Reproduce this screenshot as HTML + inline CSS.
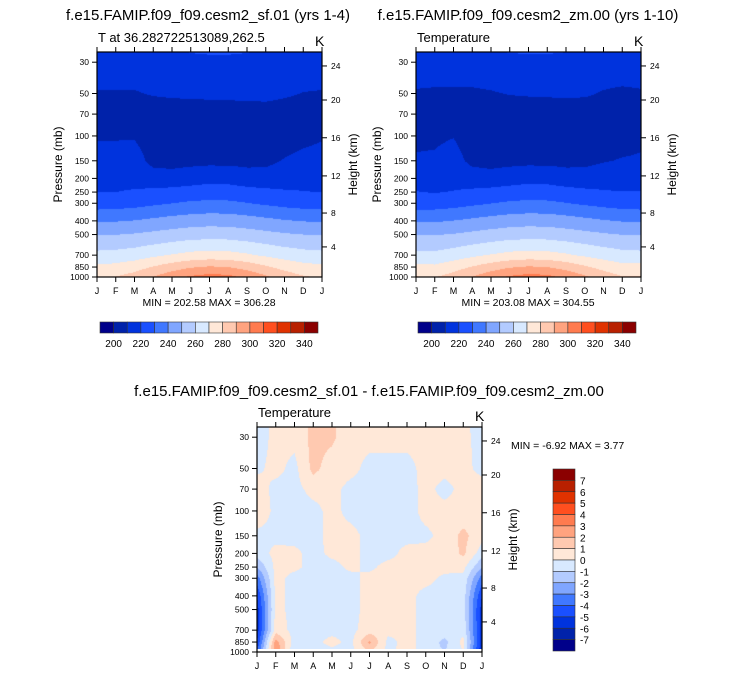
<!DOCTYPE html>
<html><head><meta charset="utf-8">
<style>
body{margin:0;background:#fff;width:733px;height:676px;overflow:hidden;font-family:"Liberation Sans",sans-serif;}
#root{position:relative;width:733px;height:676px;}
canvas{position:absolute;}
svg{position:absolute;left:0;top:0;}
</style></head>
<body><div id="root">
<canvas id="c1" width="225" height="225" style="left:97px;top:52px"></canvas>
<canvas id="c2" width="225" height="225" style="left:416px;top:52px"></canvas>
<canvas id="c3" width="225" height="222" style="left:257px;top:427px"></canvas>
<svg id="ov" width="733" height="676"></svg>
</div>
<script>
const months = ["J","F","M","A","M","J","J","A","S","O","N","D","J"];
const levels = [25,30,50,70,100,150,200,250,300,400,500,700,850,1000];
const palette = ["#00008a","#0022aa","#0033dd","#1a50ff","#4078ff","#80a6ff","#b3cbff","#d8e9ff","#ffe8d8","#ffc9b0","#ffa37f","#ff7b4f","#ff4f1f","#e03200","#b82000","#8b0000"];
const tempLevels = [200,210,220,230,240,250,260,270,280,290,300,310,320,330,340];
const diffLevels = [-7,-6,-5,-4,-3,-2,-1,0,1,2,3,4,5,6,7];
const tempTicks = [200,220,240,260,280,300,320,340];
const diffTicks = [7,6,5,4,3,2,1,0,-1,-2,-3,-4,-5,-6,-7];
const pressTicks = [30,50,70,100,150,200,250,300,400,500,700,850,1000];
const kmTicks = [4,8,12,16,20,24];
const kmPress = [612,352,192,103,55.6,31.9];
const tempSF = [
[216,216,216,217,218,221,222,222,221,218,216,216,216],
[214,214,214,214,214.5,215.5,216,216,215.5,214.5,214,214,214],
[209.5,209.5,209.5,210.5,211,211.3,211.5,211.7,212,212.3,211,209.8,209.5],
[206.5,206.5,206.5,206.5,206.5,206.5,206.5,206.5,206.5,206.5,206.5,206.5,206.5],
[209,209.2,209.3,206,205,205,205,205,205,205.5,206,207.5,209],
[213.5,213.5,213.5,207.5,207,207.5,207.5,207.5,207.5,208,210.5,212.5,213.5],
[216.5,216.5,216.5,214,213.5,215,217,216.5,214,213.5,214.5,216,216.5],
[219.8,220,221,222.3,223.5,224.5,225,224.8,223.8,222.5,221.2,220.4,219.8],
[225,225.4,226.4,228.2,229.9,231.3,232,231.7,230.3,228.5,226.8,225.6,225],
[239,239.4,240.4,242.2,243.9,245.3,246,245.7,244.3,242.5,240.8,239.6,239],
[249.5,249.8,250.8,252.4,254,255.4,256,255.7,254.4,252.8,251.1,250,249.5],
[263,263.6,265.2,268,270.7,272.9,274,273.5,271.3,268.5,265.8,263.9,263],
[272,273,275.8,280.6,285.3,289.1,291,290,286.3,281.5,276.8,273.5,272],
[279,280.3,284,290.3,296.5,301.5,304,302.8,297.8,291.5,285.3,281,279]];
const tempZM = [
[216,216,216,217,219,221,221.5,221.5,220.5,218,216,216,216],
[214,214,214,214,214.5,215.5,216,216,215.5,214.5,214,214,214],
[209.3,209,209,209,209.5,210.3,210.6,210.8,211,210.8,209.5,208.8,209.3],
[206.5,206.5,206.5,206.5,206.5,206.5,206.5,206.5,206.5,206.5,206.5,206.5,206.5],
[208.5,208.8,209.7,206,205,205,205,205,205,205.5,206,207,208.5],
[210.8,211,213,208,207,207.5,207.5,207.5,207.5,208,209.5,210.5,210.8],
[216,215.5,216,214,213.5,215,217,216.5,214,213.5,214.5,215.5,216],
[220.3,219.5,220.5,222,223.3,224.5,225,224.8,223.8,222.3,221,220.2,220.3],
[225,225,226.2,228,229.8,231.3,232,231.7,230.3,228.5,226.8,225.4,225],
[239,239,240.2,242,243.8,245.3,246,245.7,244.3,242.5,240.8,239.4,239],
[249.5,249.5,250.6,252.3,254,255.4,256,255.7,254.4,252.8,251.1,249.8,249.5],
[263,262.5,265,268,270.7,272.9,274,273.5,271.3,268.5,265.8,263.5,263],
[273,272,275.8,280.6,285.3,289.1,291,290,286.3,281.5,276.8,273,273],
[280.5,279.5,284,290.3,296.5,301.5,304,302.8,297.8,291.5,285.3,280.5,280.5]];
const diffTS = [
[-0.5,0.3,0.3,1.3,1.2,0.3,0.3,0.3,0.3,0.3,0.3,0.3,-0.5],
[-0.5,0.3,0.3,1.3,1.2,0.3,0.3,0.3,0.3,0.3,0.3,0.2,-0.3],
[-0.2,0.3,-0.3,1.3,0.5,0.3,-0.3,-0.3,-0.3,0.3,0.3,0.3,-0.3],
[0.5,-0.3,-0.3,0.3,0.3,-0.3,-0.4,-0.4,-0.4,0.3,-0.3,0.3,0.5],
[0.8,-0.3,-0.3,-0.3,0.3,-0.3,-0.4,-0.4,-0.4,0.3,0.3,0.3,0.8],
[-0.3,-0.3,-0.3,-0.3,0.3,0.3,-0.3,-0.3,-0.3,-0.2,0.3,1.3,0.3],
[-0.5,0.3,0.2,-0.3,0.2,0.3,-0.3,-0.3,0.3,0.3,0.3,1.2,-0.5],
[-2,0.3,0.2,-0.3,-0.3,0.2,-0.2,0.3,0.3,0.3,0.3,0.3,-2],
[-3.5,0.3,-0.3,-0.3,-0.3,-0.3,0.3,0.3,0.3,0.3,-0.2,-0.3,-3.5],
[-5,0.3,-0.3,-0.3,-0.3,-0.3,0.3,0.3,0.3,-0.3,-0.3,-0.5,-5],
[-5.5,0.3,-0.3,-0.3,-0.3,-0.3,0.3,0.3,0.3,-0.3,-0.3,-0.5,-5.5],
[-5.5,0.5,-0.3,-0.3,-0.3,-0.3,0.5,0.3,0.3,-0.3,-0.3,-0.3,-5.5],
[-5,2.5,-0.5,-0.3,0.3,-0.3,2.2,-0.3,0.3,-0.3,-1.3,0.3,-5.5],
[-4,3,-1,-0.3,-0.3,-0.3,1,-0.3,0.5,-0.5,-1,0,-6]];

const PTOP = 25.4, PBOT = 1000, PH = 225;
function yOfP(p){ return PH*(Math.log10(PTOP)-Math.log10(p))/(Math.log10(PTOP)-Math.log10(PBOT)); }
function colorIdx(v, lv){ let i=0; while(i<lv.length && v>=lv[i]) i++; return i; }
const lp = levels.map(p=>Math.log10(p));
function sample(grid, mx, l){
  let k=0; while(k<lp.length-2 && l>lp[k+1]) k++;
  let t=(l-lp[k])/(lp[k+1]-lp[k]); t=Math.max(0,Math.min(1,t));
  let m=Math.floor(mx); if(m>11) m=11; if(m<0)m=0; const s=mx-m;
  const a=grid[k][m]*(1-s)+grid[k][m+1]*s, b=grid[k+1][m]*(1-s)+grid[k+1][m+1]*s;
  return a*(1-t)+b*t;
}
function drawField(id, grid, lv){
  const c=document.getElementById(id), ctx=c.getContext('2d');
  const img=ctx.createImageData(c.width,c.height);
  const rgb=palette.map(h=>[parseInt(h.slice(1,3),16),parseInt(h.slice(3,5),16),parseInt(h.slice(5,7),16)]);
  const l0=Math.log10(PTOP), l1=Math.log10(PBOT);
  for(let y=0;y<c.height;y++){ const l=l0+(y+0.5)/PH*(l1-l0);
    for(let x=0;x<c.width;x++){ const mx=(x+0.5)/225*12;
      const col=rgb[colorIdx(sample(grid,mx,l),lv)]; const o=(y*c.width+x)*4;
      img.data[o]=col[0];img.data[o+1]=col[1];img.data[o+2]=col[2];img.data[o+3]=255; } }
  ctx.putImageData(img,0,0);
}
drawField('c1',tempSF,tempLevels);
drawField('c2',tempZM,tempLevels);
drawField('c3',diffTS,diffLevels);

const NS="http://www.w3.org/2000/svg", ov=document.getElementById('ov');
function el(tag,attrs,txt){const e=document.createElementNS(NS,tag);for(const k in attrs)e.setAttribute(k,attrs[k]);if(txt!==undefined)e.textContent=txt;ov.appendChild(e);return e;}
function txt(x,y,s,size,anchor,name,extra){const e=el('text',Object.assign({x:x,y:y,'font-size':size,'text-anchor':anchor||'start','font-family':'Liberation Sans, sans-serif'},extra||{}),s);

return e;}

function axes(L,T,sub,pre){
  const W=225,H=225;
  const f=el('rect',{x:L,y:T,width:W,height:H,fill:'none',stroke:'#000','stroke-width':1.2});
  
  
  months.forEach((m,i)=>{const x=L+i*W/12;
    el('line',{x1:x,y1:T,x2:x,y2:T-5,stroke:'#000'});
    el('line',{x1:x,y1:T+H,x2:x,y2:T+H+5,stroke:'#000'});
    txt(x,T+H+17,m,9,'middle',pre+'-month-label');});
  pressTicks.forEach(p=>{const y=T+yOfP(p);
    el('line',{x1:L,y1:y,x2:L-5,y2:y,stroke:'#000'});
    txt(L-8,y+3,String(p),8.5,'end',pre+'-pressure-tick');});
  kmTicks.forEach((k,i)=>{const y=T+yOfP(kmPress[i]);
    el('line',{x1:L+W,y1:y,x2:L+W+5,y2:y,stroke:'#000'});
    txt(L+W+9,y+3,String(k),8.5,'start',pre+'-height-tick');});
  txt(L-35,T+H/2,'Pressure (mb)',12,'middle',pre+'-y-axis-title',{transform:`rotate(-90 ${L-35} ${T+H/2})`});
  txt(L+W+35,T+H/2,'Height (km)',12,'middle',pre+'-right-axis-title',{transform:`rotate(-90 ${L+W+35} ${T+H/2})`});
  txt(L+1,T-10,sub,13,'start',pre+'-subtitle');
  txt(L+W-7,T-6,'K',14,'start',pre+'-units');
}
axes(97,52,'T at 36.282722513089,262.5','sf01');
axes(416,52,'Temperature','zm00');
axes(257,427,'Temperature','diff');
txt(208,20,'f.e15.FAMIP.f09_f09.cesm2_sf.01 (yrs 1-4)',15,'middle','title-sf01');
txt(528,20,'f.e15.FAMIP.f09_f09.cesm2_zm.00 (yrs 1-10)',15,'middle','title-zm00');
txt(369,396,'f.e15.FAMIP.f09_f09.cesm2_sf.01 - f.e15.FAMIP.f09_f09.cesm2_zm.00',15,'middle','title-difference');
txt(209,306,'MIN = 202.58 MAX = 306.28',10.5,'middle','minmax-sf01');
txt(528,306,'MIN = 203.08 MAX = 304.55',10.5,'middle','minmax-zm00');
txt(511,449,'MIN =  -6.92 MAX =  3.77',10.5,'start','minmax-difference');

function hbar(L,T,pre){const bw=218/16;
  palette.forEach((c,i)=>{const r=el('rect',{x:L+i*bw,y:T,width:bw,height:11,fill:c,stroke:'#333','stroke-width':0.6});
    
    });
  tempTicks.forEach(v=>{const i=tempLevels.indexOf(v)+1;txt(L+i*bw,T+25,String(v),10,'middle',pre+'-colorbar-label');});
}
hbar(100,322,'sf01');hbar(418,322,'zm00');
(function(){const L=553,T=469,bh=182/16;
  palette.slice().reverse().forEach((c,i)=>{const r=el('rect',{x:L,y:T+i*bh,width:22,height:bh,fill:c,stroke:'#333','stroke-width':0.6});
    
    });
  diffTicks.forEach((v,i)=>txt(L+27,T+(i+1)*bh+4,String(v),10,'start','diff-colorbar-label'));
})();
</script></body></html>
